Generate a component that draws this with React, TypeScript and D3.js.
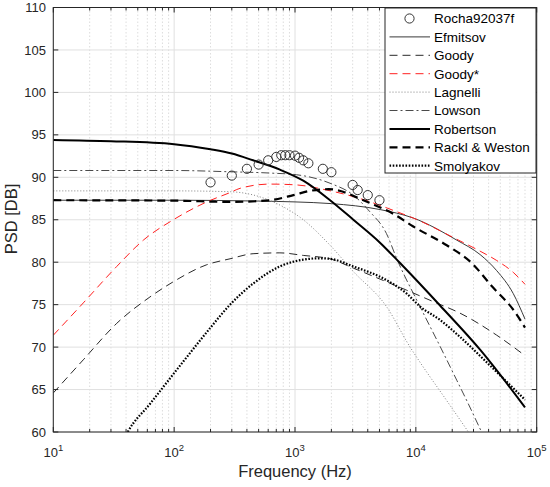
import React from "react";
import * as d3 from "d3";

type Pt = [number, number];

const rochaFreq = [200, 300, 400, 500, 600, 700, 770, 830, 900, 1000, 1080, 1170, 1290, 1700, 2000, 3000, 3300, 4000, 5000];
const rochaPsd = [89.4, 90.2, 91.0, 91.5, 92.0, 92.4, 92.6, 92.6, 92.6, 92.55, 92.3, 92.0, 91.65, 91.0, 90.6, 89.1, 88.5, 87.9, 87.3];

const efmitsov: Pt[] = [[10, 87.3], [100, 87.3], [500, 87.2], [1000, 87.1], [2000, 86.9], [5050, 86.2], [9530, 85.2], [21800, 82.6], [34000, 80.9], [46700, 79.0], [64000, 76.3], [80000, 73.3]];
const goody: Pt[] = [[10, 64.6], [17.7, 68.5], [33.5, 72.8], [63, 75.9], [98.5, 77.7], [186, 79.7], [290, 80.4], [450, 81.0], [750, 81.1], [1170, 80.8], [1950, 80.4], [3040, 79.3], [5700, 77.7], [8400, 76.7], [13960, 75.35], [23200, 74.0], [46700, 71.4], [80000, 69.0]];
const goodyStar: Pt[] = [[10, 71.4], [17.7, 75.2], [33.5, 79.5], [55.6, 82.6], [98.5, 85.0], [186, 87.1], [290, 88.2], [351, 88.7], [621, 89.2], [1033, 89.1], [1828, 88.5], [3450, 87.5], [6950, 85.95], [9530, 85.2], [21800, 82.7], [34000, 81.3], [46700, 80.2], [64000, 78.8], [80000, 77.4]];
const lagnelli: Pt[] = [[10, 88.4], [100, 88.4], [290, 88.3], [661, 87.1], [1170, 85.0], [1950, 82.0], [3040, 78.9], [5700, 74.8], [8960, 70.0], [10500, 68.5], [18000, 63.7], [27200, 60.0], [32000, 58.5]];
const lowson: Pt[] = [[10, 90.8], [100, 90.8], [290, 90.65], [621, 90.5], [1033, 90.3], [1950, 89.3], [3040, 87.9], [4130, 86.0], [5700, 83.4], [7000, 80.3], [10800, 74.8], [15850, 70.1], [21800, 66.1], [27000, 63.4], [35000, 60.0], [40000, 58.3]];
const robertson: Pt[] = [[10, 94.4], [30, 94.25], [100, 93.9], [200, 93.3], [300, 92.8], [450, 92.0], [750, 90.9], [1170, 89.6], [1950, 87.3], [3040, 85.0], [5050, 82.3], [7400, 79.9], [15850, 74.9], [34000, 69.7], [80000, 62.9]];
const rackl: Pt[] = [[10, 87.3], [100, 87.25], [300, 87.1], [620, 87.3], [970, 87.9], [1330, 88.4], [1900, 88.6], [2500, 88.3], [3040, 87.8], [4130, 87.0], [6500, 85.7], [9530, 84.2], [18000, 82.0], [29000, 79.9], [43000, 77.1], [64000, 74.4], [80000, 72.3]];
const smolyakov: Pt[] = [[38, 59], [41.3, 60], [63, 63.3], [119, 68.3], [200, 72.3], [290, 75.0], [452, 77.5], [750, 79.5], [1170, 80.3], [1610, 80.46], [1950, 80.4], [3040, 79.5], [5700, 77.9], [8400, 76.3], [10800, 74.8], [15850, 73.2], [23200, 71.2], [38000, 68.3], [80000, 63.8]];

const yTicks = [60, 65, 70, 75, 80, 85, 90, 95, 100, 105, 110];
const xDecades = [10, 100, 1000, 10000, 100000];
const xExponents = ["1", "2", "3", "4", "5"];

const legendNames = ["Rocha92037f", "Efmitsov", "Goody", "Goody*", "Lagnelli", "Lowson", "Robertson", "Rackl & Weston", "Smolyakov"];

const L = 53.3, R = 536.7, T = 7.5, B = 432;

const x = d3.scaleLog().domain([10, 1e5]).range([L, R]);
const y = d3.scaleLinear().domain([60, 110]).range([B, T]);

const lineGen = d3
  .line<Pt>()
  .x((d) => x(d[0]))
  .y((d) => y(d[1]))
  .curve(d3.curveMonotoneX);

type Style = { stroke: string; width: number; dash?: string };
const styles: Style[] = [
  { stroke: "#3a3a3a", width: 1 },
  { stroke: "#2a2a2a", width: 1, dash: "8,5" },
  { stroke: "#ff2020", width: 1, dash: "8,5" },
  { stroke: "#808080", width: 1, dash: "1,2" },
  { stroke: "#4a4a4a", width: 1, dash: "8,3,2,3" },
  { stroke: "#000000", width: 2 },
  { stroke: "#000000", width: 2.2, dash: "8,5" },
  { stroke: "#000000", width: 2.2, dash: "1.6,1.6" },
];
const series: Pt[][] = [efmitsov, goody, goodyStar, lagnelli, lowson, robertson, rackl, smolyakov];

export default function App() {
  const minor: number[] = [];
  for (let dec = 10; dec < 1e5; dec *= 10) for (let k = 2; k <= 9; k++) minor.push(dec * k);
  const font = "'Liberation Sans', Arial, Helvetica, sans-serif";
  const axisColor = "#262626";
  return (
    <svg width={550} height={487} style={{ position: "absolute", left: 0, top: 0, background: "#fff" }} fontFamily={font}>
      <defs>
        <clipPath id="plot">
          <rect x={L} y={T} width={R - L} height={B - T} />
        </clipPath>
      </defs>
      <rect x={0} y={0} width={550} height={487} fill="#fff" />
      {minor.map((f) => (
        <line key={"mg" + f} x1={x(f)} x2={x(f)} y1={T} y2={B} stroke="#d4d4d4" strokeWidth={0.8} strokeDasharray="1.5,2" />
      ))}
      {xDecades.map((f) => (
        <line key={"xg" + f} x1={x(f)} x2={x(f)} y1={T} y2={B} stroke="#e0e0e0" strokeWidth={1} />
      ))}
      {yTicks.map((v) => (
        <line key={"yg" + v} x1={L} x2={R} y1={y(v)} y2={y(v)} stroke="#e0e0e0" strokeWidth={1} />
      ))}
      <g clipPath="url(#plot)">
        {series.map((s, i) => (
          <path
            key={"s" + i}
            d={lineGen(s) || ""}
            fill="none"
            stroke={styles[i].stroke}
            strokeWidth={styles[i].width}
            strokeDasharray={styles[i].dash}
          />
        ))}
        {rochaFreq.map((f, i) => (
          <circle key={"c" + i} cx={x(f)} cy={y(rochaPsd[i])} r={4.6} fill="none" stroke="#333" strokeWidth={1} />
        ))}
      </g>
      <rect x={L} y={T} width={R - L} height={B - T} fill="none" stroke={axisColor} strokeWidth={1} />
      {yTicks.map((v) => (
        <g key={"yt" + v}>
          <line x1={L} x2={L + 5} y1={y(v)} y2={y(v)} stroke={axisColor} />
          <line x1={R} x2={R - 5} y1={y(v)} y2={y(v)} stroke={axisColor} />
          <text x={46} y={y(v)} dy="0.35em" textAnchor="end" fontSize={13} fill={axisColor}>
            {v}
          </text>
        </g>
      ))}
      {minor.map((f) => (
        <g key={"mt" + f}>
          <line x1={x(f)} x2={x(f)} y1={B} y2={B - 3} stroke={axisColor} />
          <line x1={x(f)} x2={x(f)} y1={T} y2={T + 3} stroke={axisColor} />
        </g>
      ))}
      {xDecades.map((f, i) => (
        <g key={"xt" + f}>
          <line x1={x(f)} x2={x(f)} y1={B} y2={B - 5} stroke={axisColor} />
          <line x1={x(f)} x2={x(f)} y1={T} y2={T + 5} stroke={axisColor} />
          <text x={x(f)} y={457} textAnchor="middle" fontSize={13} fill={axisColor}>
            10
            <tspan dy={-6} fontSize={9.5}>
              {xExponents[i]}
            </tspan>
          </text>
        </g>
      ))}
      <text x={295} y={477} textAnchor="middle" fontSize={16.5} fill={axisColor}>
        Frequency (Hz)
      </text>
      <text transform="translate(17,219) rotate(-90)" textAnchor="middle" fontSize={16.5} fill={axisColor}>
        PSD [DB]
      </text>
      <rect x={385} y={8} width={151} height={165} fill="#fff" stroke={axisColor} strokeWidth={1} />
      {legendNames.map((name, i) => {
        const cy = 18.5 + i * 18.4;
        return (
          <g key={"lg" + i}>
            {i === 0 ? (
              <circle cx={409.5} cy={cy} r={4.6} fill="none" stroke="#333" strokeWidth={1} />
            ) : (
              <line
                x1={389.5}
                x2={430}
                y1={cy}
                y2={cy}
                stroke={styles[i - 1].stroke}
                strokeWidth={styles[i - 1].width}
                strokeDasharray={styles[i - 1].dash}
              />
            )}
            <text x={434} y={cy} dy="0.36em" fontSize={13.5} fill="#000">
              {name}
            </text>
          </g>
        );
      })}
    </svg>
  );
}
